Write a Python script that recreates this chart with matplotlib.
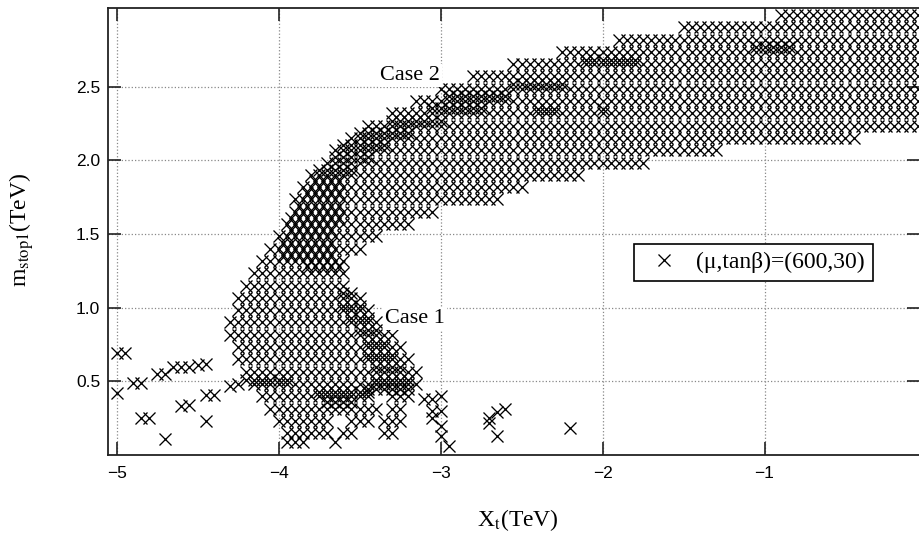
import matplotlib
matplotlib.use("Agg")
import matplotlib.pyplot as plt

# scan points, one list of Xt per m_stop1 row
row_m = [2.987, 2.904, 2.820, 2.737, 2.653, 2.570, 2.486, 2.403, 2.319, 2.236, 2.152, 2.069,
         1.985, 1.902, 1.818, 1.735, 1.651, 1.568, 1.484, 1.401, 1.317, 1.234, 1.150, 1.067,
         0.983, 0.900, 0.816, 0.733, 0.649, 0.566, 0.482, 0.399, 0.315, 0.232, 0.148, 0.085]
row_xt = [
    [-0.9,-0.85,-0.8,-0.75,-0.7,-0.65,-0.6,-0.55,-0.5,-0.45,-0.4,-0.35,-0.3,-0.25,-0.2,-0.15,-0.1,-0.05],
    [-1.5,-1.45,-1.4,-1.35,-1.3,-1.25,-1.2,-1.15,-1.1,-1.05,-1.0,-0.95,-0.9,-0.85,-0.8,-0.75,-0.7,-0.65,-0.6,-0.55,-0.5,-0.45,-0.4,-0.35,-0.3,-0.25,-0.2,-0.15,-0.1,-0.05],
    [-1.9,-1.85,-1.8,-1.75,-1.7,-1.65,-1.6,-1.55,-1.5,-1.45,-1.4,-1.35,-1.3,-1.25,-1.2,-1.15,-1.1,-1.05,-1.0,-0.95,-0.9,-0.85,-0.8,-0.75,-0.7,-0.65,-0.6,-0.55,-0.5,-0.45,-0.4,-0.35,-0.3,-0.25,-0.2,-0.15,-0.1,-0.05],
    [-2.25,-2.2,-2.15,-2.1,-2.05,-2.0,-1.95,-1.9,-1.85,-1.8,-1.75,-1.7,-1.65,-1.6,-1.55,-1.5,-1.45,-1.4,-1.35,-1.3,-1.25,-1.2,-1.15,-1.1,-1.05,-1.0,-0.95,-0.9,-0.85,-0.8,-0.75,-0.7,-0.65,-0.6,-0.55,-0.5,-0.45,-0.4,-0.35,-0.3,-0.25,-0.2,-0.15,-0.1,-0.05],
    [-2.55,-2.5,-2.45,-2.4,-2.35,-2.3,-2.25,-2.2,-2.15,-2.1,-2.05,-2.0,-1.95,-1.9,-1.85,-1.8,-1.75,-1.7,-1.65,-1.6,-1.55,-1.5,-1.45,-1.4,-1.35,-1.3,-1.25,-1.2,-1.15,-1.1,-1.05,-1.0,-0.95,-0.9,-0.85,-0.8,-0.75,-0.7,-0.65,-0.6,-0.55,-0.5,-0.45,-0.4,-0.35,-0.3,-0.25,-0.2,-0.15,-0.1,-0.05],
    [-2.8,-2.75,-2.7,-2.65,-2.6,-2.55,-2.5,-2.45,-2.4,-2.35,-2.3,-2.25,-2.2,-2.15,-2.1,-2.05,-2.0,-1.95,-1.9,-1.85,-1.8,-1.75,-1.7,-1.65,-1.6,-1.55,-1.5,-1.45,-1.4,-1.35,-1.3,-1.25,-1.2,-1.15,-1.1,-1.05,-1.0,-0.95,-0.9,-0.85,-0.8,-0.75,-0.7,-0.65,-0.6,-0.55,-0.5,-0.45,-0.4,-0.35,-0.3,-0.25,-0.2,-0.15,-0.1,-0.05],
    [-3.0,-2.95,-2.9,-2.85,-2.8,-2.75,-2.7,-2.65,-2.6,-2.55,-2.5,-2.45,-2.4,-2.35,-2.3,-2.25,-2.2,-2.15,-2.1,-2.05,-2.0,-1.95,-1.9,-1.85,-1.8,-1.75,-1.7,-1.65,-1.6,-1.55,-1.5,-1.45,-1.4,-1.35,-1.3,-1.25,-1.2,-1.15,-1.1,-1.05,-1.0,-0.95,-0.9,-0.85,-0.8,-0.75,-0.7,-0.65,-0.6,-0.55,-0.5,-0.45,-0.4,-0.35,-0.3,-0.25,-0.2,-0.15,-0.1,-0.05],
    [-3.15,-3.1,-3.05,-3.0,-2.95,-2.9,-2.85,-2.8,-2.75,-2.7,-2.65,-2.6,-2.55,-2.5,-2.45,-2.4,-2.35,-2.3,-2.25,-2.2,-2.15,-2.1,-2.05,-2.0,-1.95,-1.9,-1.85,-1.8,-1.75,-1.7,-1.65,-1.6,-1.55,-1.5,-1.45,-1.4,-1.35,-1.3,-1.25,-1.2,-1.15,-1.1,-1.05,-1.0,-0.95,-0.9,-0.85,-0.8,-0.75,-0.7,-0.65,-0.6,-0.55,-0.5,-0.45,-0.4,-0.35,-0.3,-0.25,-0.2,-0.15,-0.1,-0.05],
    [-3.3,-3.25,-3.2,-3.15,-3.1,-3.05,-3.0,-2.95,-2.9,-2.85,-2.8,-2.75,-2.7,-2.65,-2.6,-2.55,-2.5,-2.45,-2.4,-2.35,-2.3,-2.25,-2.2,-2.15,-2.1,-2.05,-2.0,-1.95,-1.9,-1.85,-1.8,-1.75,-1.7,-1.65,-1.6,-1.55,-1.5,-1.45,-1.4,-1.35,-1.3,-1.25,-1.2,-1.15,-1.1,-1.05,-1.0,-0.95,-0.9,-0.85,-0.8,-0.75,-0.7,-0.65,-0.6,-0.55,-0.5,-0.45,-0.4,-0.35,-0.3,-0.25,-0.2,-0.15,-0.1,-0.05],
    [-3.45,-3.4,-3.35,-3.3,-3.25,-3.2,-3.15,-3.1,-3.05,-3.0,-2.95,-2.9,-2.85,-2.8,-2.75,-2.7,-2.65,-2.6,-2.55,-2.5,-2.45,-2.4,-2.35,-2.3,-2.25,-2.2,-2.15,-2.1,-2.05,-2.0,-1.95,-1.9,-1.85,-1.8,-1.75,-1.7,-1.65,-1.6,-1.55,-1.5,-1.45,-1.4,-1.35,-1.3,-1.25,-1.2,-1.15,-1.1,-1.05,-1.0,-0.95,-0.9,-0.85,-0.8,-0.75,-0.7,-0.65,-0.6,-0.55,-0.5,-0.45,-0.4,-0.35,-0.3,-0.25,-0.2,-0.15,-0.1,-0.05],
    [-3.55,-3.5,-3.45,-3.4,-3.35,-3.3,-3.25,-3.2,-3.15,-3.1,-3.05,-3.0,-2.95,-2.9,-2.85,-2.8,-2.75,-2.7,-2.65,-2.6,-2.55,-2.5,-2.45,-2.4,-2.35,-2.3,-2.25,-2.2,-2.15,-2.1,-2.05,-2.0,-1.95,-1.9,-1.85,-1.8,-1.75,-1.7,-1.65,-1.6,-1.55,-1.5,-1.45,-1.4,-1.35,-1.3,-1.25,-1.2,-1.15,-1.1,-1.05,-1.0,-0.95,-0.9,-0.85,-0.8,-0.75,-0.7,-0.65,-0.6,-0.55,-0.5,-0.45],
    [-3.65,-3.6,-3.55,-3.5,-3.45,-3.4,-3.35,-3.3,-3.25,-3.2,-3.15,-3.1,-3.05,-3.0,-2.95,-2.9,-2.85,-2.8,-2.75,-2.7,-2.65,-2.6,-2.55,-2.5,-2.45,-2.4,-2.35,-2.3,-2.25,-2.2,-2.15,-2.1,-2.05,-2.0,-1.95,-1.9,-1.85,-1.8,-1.75,-1.7,-1.65,-1.6,-1.55,-1.5,-1.45,-1.4,-1.35,-1.3],
    [-3.7,-3.65,-3.6,-3.55,-3.5,-3.45,-3.4,-3.35,-3.3,-3.25,-3.2,-3.15,-3.1,-3.05,-3.0,-2.95,-2.9,-2.85,-2.8,-2.75,-2.7,-2.65,-2.6,-2.55,-2.5,-2.45,-2.4,-2.35,-2.3,-2.25,-2.2,-2.15,-2.1,-2.05,-2.0,-1.95,-1.9,-1.85,-1.8,-1.75],
    [-3.8,-3.75,-3.7,-3.65,-3.6,-3.55,-3.5,-3.45,-3.4,-3.35,-3.3,-3.25,-3.2,-3.15,-3.1,-3.05,-3.0,-2.95,-2.9,-2.85,-2.8,-2.75,-2.7,-2.65,-2.6,-2.55,-2.5,-2.45,-2.4,-2.35,-2.3,-2.25,-2.2,-2.15],
    [-3.85,-3.8,-3.75,-3.7,-3.65,-3.6,-3.55,-3.5,-3.45,-3.4,-3.35,-3.3,-3.25,-3.2,-3.15,-3.1,-3.05,-3.0,-2.95,-2.9,-2.85,-2.8,-2.75,-2.7,-2.65,-2.6,-2.55,-2.5],
    [-3.9,-3.85,-3.8,-3.75,-3.7,-3.65,-3.6,-3.55,-3.5,-3.45,-3.4,-3.35,-3.3,-3.25,-3.2,-3.15,-3.1,-3.05,-3.0,-2.95,-2.9,-2.85,-2.8,-2.75,-2.7,-2.65],
    [-3.9,-3.85,-3.8,-3.75,-3.7,-3.65,-3.6,-3.55,-3.5,-3.45,-3.4,-3.35,-3.3,-3.25,-3.2,-3.15,-3.1,-3.05],
    [-3.95,-3.9,-3.85,-3.8,-3.75,-3.7,-3.65,-3.6,-3.55,-3.5,-3.45,-3.4,-3.35,-3.3,-3.25,-3.2],
    [-4.0,-3.95,-3.9,-3.85,-3.8,-3.75,-3.7,-3.65,-3.6,-3.55,-3.5,-3.45,-3.4],
    [-4.05,-4.0,-3.95,-3.9,-3.85,-3.8,-3.75,-3.7,-3.65,-3.6,-3.55,-3.5],
    [-4.1,-4.05,-4.0,-3.95,-3.9,-3.85,-3.8,-3.75,-3.7,-3.65,-3.6],
    [-4.15,-4.1,-4.05,-4.0,-3.95,-3.9,-3.85,-3.8,-3.75,-3.7,-3.65,-3.6],
    [-4.2,-4.15,-4.1,-4.05,-4.0,-3.95,-3.9,-3.85,-3.8,-3.75,-3.7,-3.65,-3.6],
    [-4.25,-4.2,-4.15,-4.1,-4.05,-4.0,-3.95,-3.9,-3.85,-3.8,-3.75,-3.7,-3.65,-3.6,-3.55,-3.5],
    [-4.25,-4.2,-4.15,-4.1,-4.05,-4.0,-3.95,-3.9,-3.85,-3.8,-3.75,-3.7,-3.65,-3.6,-3.55,-3.5,-3.45],
    [-4.3,-4.25,-4.2,-4.15,-4.1,-4.05,-4.0,-3.95,-3.9,-3.85,-3.8,-3.75,-3.7,-3.65,-3.6,-3.55,-3.5,-3.45,-3.4],
    [-4.3,-4.25,-4.2,-4.15,-4.1,-4.05,-4.0,-3.95,-3.9,-3.85,-3.8,-3.75,-3.7,-3.65,-3.6,-3.55,-3.5,-3.45,-3.4,-3.35,-3.3],
    [-4.25,-4.2,-4.15,-4.1,-4.05,-4.0,-3.95,-3.9,-3.85,-3.8,-3.75,-3.7,-3.65,-3.6,-3.55,-3.5,-3.45,-3.4,-3.35,-3.3,-3.25],
    [-4.25,-4.2,-4.15,-4.1,-4.05,-4.0,-3.95,-3.9,-3.85,-3.8,-3.75,-3.7,-3.65,-3.6,-3.55,-3.5,-3.45,-3.4,-3.35,-3.3,-3.25,-3.2],
    [-4.2,-4.15,-4.1,-4.05,-4.0,-3.95,-3.9,-3.85,-3.8,-3.75,-3.7,-3.65,-3.6,-3.55,-3.5,-3.45,-3.4,-3.35,-3.3,-3.25,-3.2,-3.15],
    [-4.15,-4.1,-4.05,-4.0,-3.95,-3.9,-3.85,-3.8,-3.75,-3.7,-3.65,-3.6,-3.55,-3.5,-3.45,-3.4,-3.35,-3.3,-3.25,-3.2,-3.15],
    [-4.1,-4.05,-4.0,-3.95,-3.9,-3.85,-3.8,-3.75,-3.7,-3.65,-3.6,-3.55,-3.5,-3.45,-3.3,-3.25,-3.2],
    [-4.05,-4.0,-3.95,-3.9,-3.85,-3.8,-3.75,-3.7,-3.65,-3.6,-3.55,-3.5,-3.45,-3.4,-3.3,-3.25],
    [-4.0,-3.95,-3.9,-3.85,-3.8,-3.75,-3.7,-3.55,-3.5,-3.45,-3.35,-3.3,-3.25],
    [-3.95,-3.9,-3.85,-3.8,-3.75,-3.7,-3.6,-3.55,-3.35,-3.3],
    [-3.95,-3.9,-3.85,-3.65],
]

# darker patches where a second set of points overlaps the first
dense_m = [1.86, 1.78, 1.69, 1.61, 1.53, 1.44, 1.36, 1.28,
           2.52, 2.44, 2.354, 2.27, 2.187, 2.104, 2.02, 1.937,
           1.097, 1.013, 0.93, 0.846, 0.763, 0.68, 0.596, 0.512, 0.45,
           0.512, 0.43, 0.36, 2.683, 2.35, 2.767]
dense_xt = [
    [-3.775,-3.725,-3.675,-3.625],
    [-3.825,-3.775,-3.725,-3.675,-3.625],
    [-3.875,-3.825,-3.775,-3.725,-3.675,-3.625],
    [-3.925,-3.875,-3.825,-3.775,-3.725,-3.675,-3.625],
    [-3.925,-3.875,-3.825,-3.775,-3.725,-3.675],
    [-3.975,-3.925,-3.875,-3.825,-3.775,-3.725,-3.675],
    [-3.975,-3.925,-3.875,-3.825,-3.775,-3.725,-3.675],
    [-3.825,-3.775,-3.725,-3.675,-3.625],
    [-2.55,-2.5,-2.45,-2.4,-2.35,-2.3,-2.25],
    [-2.95,-2.9,-2.85,-2.8,-2.75,-2.7,-2.65,-2.6],
    [-3.05,-3.0,-2.95,-2.9,-2.85,-2.8,-2.75],
    [-3.3,-3.25,-3.2,-3.15,-3.1,-3.05,-3.0],
    [-3.5,-3.45,-3.4,-3.35,-3.3,-3.25,-3.2],
    [-3.6,-3.55,-3.5,-3.45,-3.4,-3.35],
    [-3.65,-3.6,-3.55,-3.5,-3.45],
    [-3.75,-3.7,-3.65,-3.6,-3.55],
    [-3.6,-3.55],
    [-3.6,-3.55,-3.5],
    [-3.55,-3.5,-3.45],
    [-3.5,-3.45,-3.4],
    [-3.45,-3.4,-3.35],
    [-3.45,-3.4,-3.35,-3.3],
    [-3.4,-3.35,-3.3,-3.25],
    [-3.4,-3.35,-3.3,-3.25,-3.2],
    [-3.45,-3.4,-3.35,-3.3,-3.25,-3.2],
    [-4.2,-4.15,-4.1,-4.05,-4.0,-3.95],
    [-3.75,-3.7,-3.65,-3.6,-3.55,-3.5,-3.45],
    [-3.7,-3.65,-3.6,-3.55],
    [-2.1,-2.05,-2.0,-1.95,-1.9,-1.85,-1.8],
    [-2.4,-2.35,-2.3,-2.0],
    [-1.05,-1.0,-0.95,-0.9,-0.85],
]

# stragglers away from the main band
loose_xt = [-5.0,-4.95,-5.0,-4.9,-4.85,-4.75,-4.7,-4.65,-4.6,-4.55,-4.5,-4.45,-4.85,-4.8,-4.7,-4.6,-4.55,-4.45,-4.4,-4.45,
            -4.3,-4.25,-3.1,-3.05,-3.0,-3.05,-3.0,-3.05,-3.0,-3.0,-2.95,-2.6,-2.65,-2.7,-2.7,-2.65,-2.2]
loose_m = [0.69,0.69,0.42,0.49,0.49,0.55,0.55,0.60,0.60,0.60,0.61,0.62,0.25,0.25,0.11,0.33,0.34,0.41,0.41,0.23,
           0.47,0.48,0.38,0.38,0.40,0.30,0.30,0.25,0.20,0.13,0.06,0.31,0.29,0.25,0.22,0.13,0.18]

legend_label = "(\u03bc,tan\u03b2)=(600,30)"

xt = []
m = []
for value, row in zip(row_m + dense_m, row_xt + dense_xt):
    xt += row
    m += [value] * len(row)
xt += loose_xt
m += loose_m

fig = plt.figure(figsize=(9.2, 5.39), dpi=100)
ax = fig.add_axes([108.5 / 920, 1 - 455 / 539, 811.5 / 920, 447 / 539])

ax.plot(xt, m, "x", color="black", markersize=9.3, markeredgewidth=0.95, label=legend_label, zorder=3)

ax.set_xlim(-5.05, -0.04)
ax.set_ylim(0.0, 3.035)
ax.set_xticks([-5, -4, -3, -2, -1])
ax.set_yticks([0.5, 1.0, 1.5, 2.0, 2.5])
ax.set_yticklabels(["0.5", "1.0", "1.5", "2.0", "2.5"])
ax.tick_params(direction="in", length=9.5, width=1.2, top=True, right=True, pad=6, color="#222222")
ax.tick_params(axis="x", pad=8)
for label in ax.get_xticklabels() + ax.get_yticklabels():
    label.set_family("Liberation Sans")
    label.set_fontsize(12.5)
for spine in ax.spines.values():
    spine.set_linewidth(1.3)
    spine.set_color("#222222")
ax.grid(True, linestyle=":", color="#888888", linewidth=0.9, zorder=1)
ax.set_axisbelow(True)

serif = "Liberation Serif"
fig.text(518 / 920, 1 - 520 / 539, "X$_{\\mathrm{t}}$(TeV)", family=serif, fontsize=17,
         ha="center", va="center", math_fontfamily="stix")
fig.text(22 / 920, 1 - 230 / 539, "m$_{\\mathrm{stop1}}$(TeV)", family=serif, fontsize=17,
         ha="center", va="center", rotation=90, math_fontfamily="stix")

box = dict(facecolor="white", edgecolor="none", pad=1.5)
ax.text(-3.375, 2.58, "Case 2", family=serif, fontsize=16, ha="left", va="center", bbox=box, zorder=4)
ax.text(-3.34, 0.93, "Case 1", family=serif, fontsize=16, ha="left", va="center", bbox=box, zorder=4)

leg = ax.legend(loc="center left", bbox_to_anchor=((634 - 108.5) / 811.5, (455 - 262.5) / 447),
                frameon=True, fancybox=False, framealpha=1, edgecolor="black", borderaxespad=0,
                prop={"family": serif, "size": 17}, handlelength=1.9, handletextpad=0.4,
                borderpad=0.33)
leg.get_frame().set_linewidth(1.2)
leg.set_zorder(5)

fig.savefig("out.png", dpi=100)
